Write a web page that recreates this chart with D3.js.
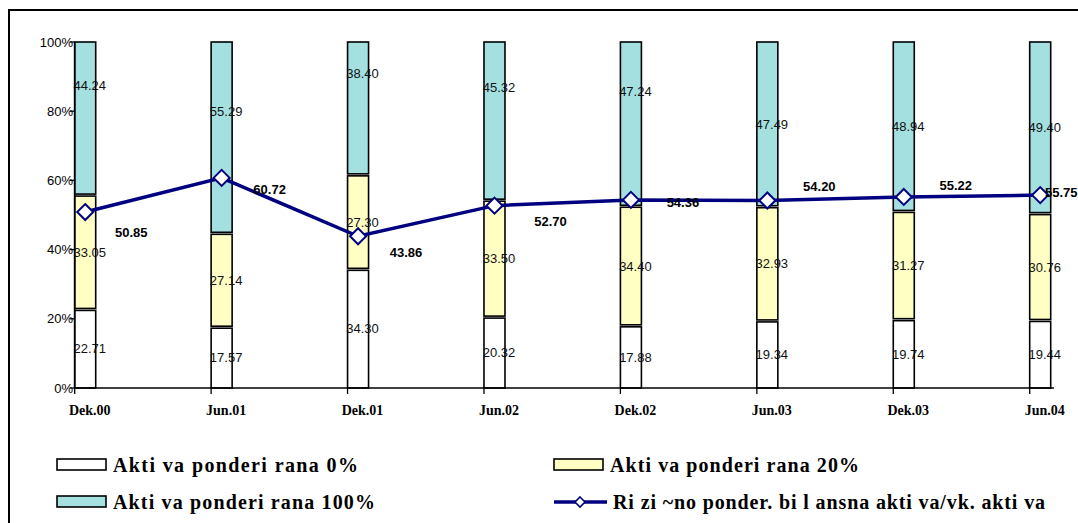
<!DOCTYPE html>
<html><head><meta charset="utf-8">
<script src="https://cdn.jsdelivr.net/npm/d3@7"></script>
<style>body{margin:0;background:#fff}svg{display:block}</style>
</head><body>
<svg id="c" width="1078" height="523"></svg>
<script>
const categories = ["Dek.00","Jun.01","Dek.01","Jun.02","Dek.02","Jun.03","Dek.03","Jun.04"];
const w0   = [22.71,17.57,34.30,20.32,17.88,19.34,19.74,19.44];
const w20  = [33.05,27.14,27.30,33.50,34.40,32.93,31.27,30.76];
const w100 = [44.24,55.29,38.40,45.32,47.24,47.49,48.94,49.40];
const ratio = [50.85,60.72,43.86,52.70,54.36,54.20,55.22,55.75];
const yTicks = [0,20,40,60,80,100];
const seriesNames = ["Akti va ponderi rana 0%","Akti va ponderi rana 20%","Akti va ponderi rana 100%","Ri zi ~no ponder. bi l ansna akti va/vk. akti va"];
// label anchors (data units) for the top segment labels, as placed in the original; null = middle
const topLabelAt = [87.4,80.1,91.0,86.9,85.8,null,null,null];
// nudges for the line value labels (px)
const lineLabelNudge = [[46,20],[48,11],[48,16],[56,16],[52,2],[52,-14],[52,-12],[21,-3]];

const svg = d3.select("#c");
const colors = ["#FFFFFF","#FFFFC4","#A4E0E0"];
const navy = "#000080";

// frame
svg.append("rect").attr("x",9).attr("y",10).attr("width",1100).attr("height",600)
  .attr("fill","none").attr("stroke","#000").attr("stroke-width",2);

const x = d3.scalePoint().domain(categories).range([74.7,1029.7]);
const y = d3.scaleLinear().domain([0,100]).range([388,42]);
const bw = 21;

// bars
const stacks = categories.map((c,i)=>{
  const vals=[w0[i],w20[i],w100[i]];
  const tot=d3.sum(vals);
  let acc=0;
  return vals.map((v,k)=>{const s={c,i,k,v,y0:acc/tot*100,y1:(acc+v)/tot*100};acc+=v;return s;});
});
const g = svg.append("g");
stacks.forEach(st=>st.forEach(s=>{
  const top = y(s.y1) + (s.k<2?1:0);
  const bot = y(s.y0) - (s.k>0?1:0);
  g.append("rect").attr("x",x(s.c)).attr("y",top).attr("width",bw).attr("height",bot-top)
   .attr("fill",colors[s.k]).attr("stroke","#000").attr("stroke-width",1.6);
}));

// axes
const ax = svg.append("g");
ax.append("line").attr("x1",74).attr("x2",1054).attr("y1",y(0)).attr("y2",y(0)).attr("stroke","#000").attr("stroke-width",1.6);
ax.append("line").attr("x1",74.7).attr("x2",74.7).attr("y1",y(0)).attr("y2",y(100)).attr("stroke","#000").attr("stroke-width",1.6);
categories.forEach(c=>{
  ax.append("line").attr("x1",x(c)).attr("x2",x(c)).attr("y1",y(0)).attr("y2",y(0)+6).attr("stroke","#000").attr("stroke-width",1.3);
  ax.append("text").attr("x",x(c)+15).attr("y",y(0)+27).attr("text-anchor","middle")
    .attr("font-family","Liberation Serif").attr("font-weight","bold").attr("font-size",14).text(c);
});
yTicks.forEach(t=>{
  ax.append("line").attr("x1",70).attr("x2",74.7).attr("y1",y(t)).attr("y2",y(t)).attr("stroke","#000").attr("stroke-width",1.3);
  ax.append("text").attr("x",73).attr("y",y(t)).attr("dy","0.36em").attr("text-anchor","end")
    .attr("font-family","Liberation Sans").attr("font-size",13).text(t+"%");
});

// segment labels
stacks.forEach((st,i)=>st.forEach(s=>{
  let at=(s.y0+s.y1)/2;
  if(s.k===2 && topLabelAt[i]!==null) at=topLabelAt[i];
  g.append("text").attr("x",x(s.c)+15).attr("y",y(at)).attr("dy","0.36em").attr("text-anchor","middle")
   .attr("font-family","Liberation Sans").attr("font-size",13).attr("fill","#111").text(s.v.toFixed(2));
}));

// line
const lx = c=>x(c)+bw/2;
const line = d3.line().x((d,i)=>lx(categories[i])).y(d=>y(d));
svg.append("path").attr("d",line(ratio)).attr("fill","none").attr("stroke",navy).attr("stroke-width",3.5);
const diamond = "M0,-8L8,0L0,8L-8,0Z";
ratio.forEach((v,i)=>{
  svg.append("path").attr("d",diamond).attr("transform",`translate(${lx(categories[i])},${y(v)})`)
    .attr("fill","#fff").attr("stroke",navy).attr("stroke-width",2);
});
ratio.forEach((v,i)=>{
  svg.append("text").attr("x",lx(categories[i])+lineLabelNudge[i][0]).attr("y",y(v)+lineLabelNudge[i][1])
    .attr("dy","0.36em").attr("text-anchor","middle").attr("font-family","Liberation Sans")
    .attr("font-weight","bold").attr("font-size",13).text(v.toFixed(2));
});

// legend
const leg = svg.append("g").attr("font-family","Liberation Serif").attr("font-weight","bold").attr("font-size",20);
const legPos = [[57,465,0,245],[554,465,1,249],[57,502,2,262],[554,502,3,432]];
legPos.forEach(([lx0,ly,k,tl])=>{
  if(k<3){
    leg.append("rect").attr("x",lx0).attr("y",ly-6).attr("width",49).attr("height",11)
      .attr("fill",colors[k]).attr("stroke","#000").attr("stroke-width",1.6);
  } else {
    leg.append("line").attr("x1",lx0).attr("x2",lx0+53).attr("y1",ly).attr("y2",ly).attr("stroke",navy).attr("stroke-width",3.5);
    leg.append("path").attr("d","M0,-5L5,0L0,5L-5,0Z").attr("transform",`translate(${lx0+26},${ly})`)
      .attr("fill","#fff").attr("stroke",navy).attr("stroke-width",1.6);
  }
  leg.append("text").attr("x",lx0+(k<3?56:59)).attr("y",ly).attr("dy","0.35em")
    .attr("textLength",tl).attr("lengthAdjust","spacing").text(seriesNames[k]);
});
</script>
</body></html>
